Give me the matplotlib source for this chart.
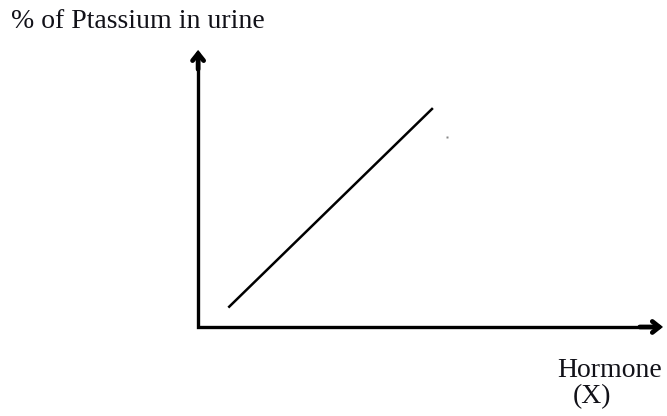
import matplotlib.pyplot as plt

# Hormone (X) level against % of potassium excreted in urine
hormone = [0.65, 5.05]
potassium = [0.7, 7.9]

# stray speck near the end of the line
speck_x = [5.35]
speck_y = [6.86]

y_label = "% of Ptassium in urine"

plt.rcParams['font.family'] = ['Liberation Serif', 'DejaVu Serif']

fig = plt.figure(figsize=(6.67, 4.16), dpi=100)
ax = fig.add_axes([0.297, 0.214, 0.697, 0.666])
ax.set_xlim(0, 10)
ax.set_ylim(0, 10)
ax.axis('off')

# axes drawn as one L-shaped stroke with arrowheads on the ends
ax.plot([0, 0, 9.9], [9.9, 0, 0], color='black', lw=2.4,
        solid_joinstyle='miter', solid_capstyle='butt', clip_on=False)
head = dict(arrowstyle='->,head_length=0.5,head_width=0.4', lw=3.4,
            color='black', shrinkA=0, shrinkB=0, joinstyle='miter')
ax.annotate('', xy=(10, 0), xytext=(9.5, 0), arrowprops=head,
            annotation_clip=False)
ax.annotate('', xy=(0, 10), xytext=(0, 9.3), arrowprops=head,
            annotation_clip=False)

ax.plot(hormone, potassium, color='black', lw=1.8, solid_capstyle='butt')
ax.plot(speck_x, speck_y, 's', color='#888888', ms=1.5, mec='none')

txt = dict(fontsize=20, color='#111118', va='baseline')
fig.text(11 / 667, 1 - 28 / 416, y_label, ha='left', **txt)
fig.text(662 / 667, 1 - 377 / 416, "Hormone", ha='right', **txt)
fig.text(592 / 667, 1 - 403 / 416, "(X)", ha='center', **txt)

fig.savefig('out.png', dpi=100)
